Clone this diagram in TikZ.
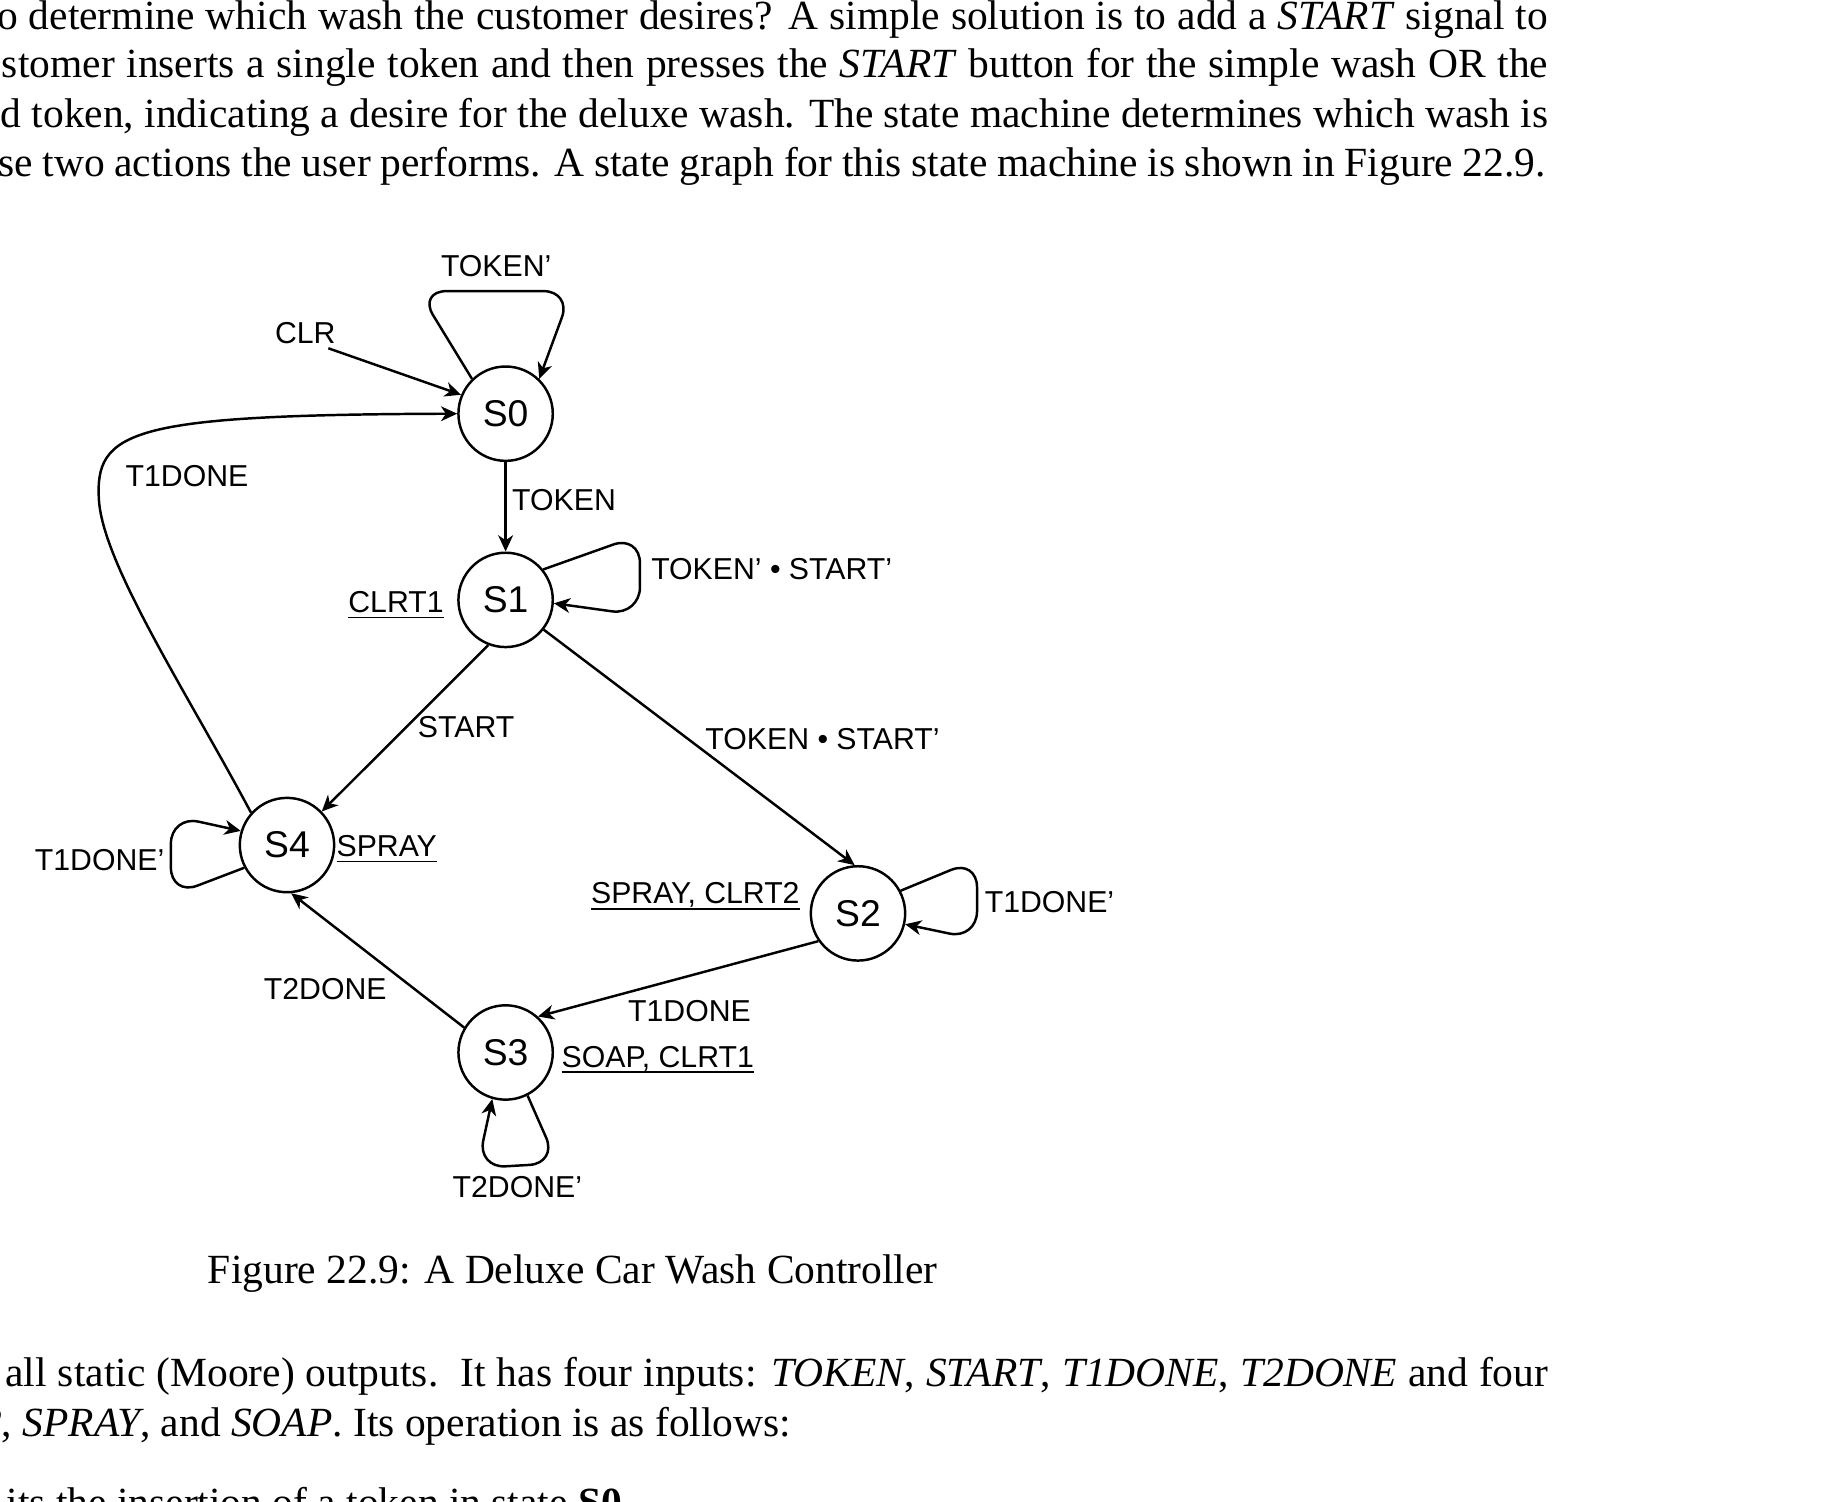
\documentclass[tikz,border=0pt]{standalone}
\usepackage{fontspec}
\setmainfont{Liberation Serif}
\newfontfamily\sansfnt{Liberation Sans}
\usetikzlibrary{arrows.meta}
\newdimen\ux
\ux=0.011786cm
\newcommand\outp[1]{\underline{\raisebox{0pt}[\height][0pt]{#1}}}

\begin{document}
\begin{tikzpicture}[x=0.011786cm,y=-0.011786cm,
		stat/.style={draw,circle,line width=0.7pt,minimum size=0.943cm,inner sep=0pt,font=\sansfnt\fontsize{10.6}{12}\selectfont},
		lbl/.style={inner sep=0pt,font=\sansfnt\fontsize{8.6}{10}\selectfont},
		txt/.style={inner sep=0pt,anchor=base west,font=\fontsize{11.8}{14}\selectfont},
		trans/.style={line width=0.7pt,-{Stealth[length=4.6pt,width=4.2pt,inset=1.4pt]}},
		selfloop/.style={trans,rounded corners=8pt}]
		\useasboundingbox (0,0) rectangle (1568,1274);
		\begin{scope}
			\clip (0,0) rectangle (1568,1274);
			\node[txt] (p1) at (-3,25) {\makebox[1316\ux][s]{o determine which wash the customer desires? A simple solution is to add a \textit{START} signal to}};
			\node[txt] (p2) at (1,66) {\makebox[1312\ux][s]{stomer inserts a single token and then presses the \textit{START} button for the simple wash OR the}};
			\node[txt] (p3) at (0,108) {\makebox[1313\ux][s]{d token, indicating a desire for the deluxe wash. The state machine determines which wash is}};
			\node[txt] (p4) at (-2,150) {\makebox[1313\ux][s]{se two actions the user performs. A state graph for this state machine is shown in Figure 22.9.}};
			\node[txt,anchor=base] (cap) at (486,1089) {Figure 22.9: A Deluxe Car Wash Controller};
			\node[txt] (p5) at (4,1176) {\makebox[1309\ux][s]{all static (Moore) outputs.\ \ It has four inputs: \textit{TOKEN}, \textit{START}, \textit{T1DONE}, \textit{T2DONE} and four}};
			\node[txt,anchor=base east] (p6) at (672,1219) {\textit{2}, \textit{SPRAY}, and \textit{SOAP}. Its operation is as follows:};
			\node[txt] (p7) at (5,1287) {its the insertion of a token in state \textbf{S0}.};
		\end{scope}
		\node[stat] (S0) at (429,351) {S0};
		\node[stat] (S1) at (429,509) {S1};
		\node[stat] (S4) at (243.5,717) {S4};
		\node[stat] (S2) at (728,775) {S2};
		\node[stat] (S3) at (429,893) {S3};
		\coordinate (clr) at (278.6,295.5);
		\draw[trans] (clr) -- (S0.157);
		\draw[trans] (S0.south) -- (S1.north);
		\draw[trans] (S1.249) -- (S4.44);
		\draw[trans] (S1.-38) -- (S2.94);
		\draw[trans] (S2.215) -- (S3.48);
		\draw[trans] (S3.149) -- (S4.-85);
		\draw[trans] (S4.138) .. controls (160,590) and (88,480) .. (84,425) .. controls (80,365) and (110,352) .. (S0.west);
		\draw[selfloop] (S0.134) -- (355,247) -- (485,247) -- (S0.46);
		\draw[selfloop] (S1.39) -- (543,454) -- (543,522) -- (S1.-4);
		\draw[selfloop] (S4.208) -- (145,760) -- (145,692) -- (S4.163);
		\draw[selfloop] (S2.28) -- (829,729) -- (829,797) -- (S2.-13);
		\draw[selfloop] (S3.-63) -- (473,987) -- (405,991) -- (S3.-106);
		\node[lbl] (t00) at (421,226) {TOKEN’};
		\node[lbl] (tclr) at (259,283) {CLR};
		\node[lbl,anchor=west] (t01) at (434,424) {TOKEN};
		\node[lbl,anchor=west] (t11) at (552,483) {TOKEN’ • START’};
		\node[lbl,anchor=east] (o1) at (377,514) {\outp{CLRT1}};
		\node[lbl,anchor=west] (t14) at (354,617) {START};
		\node[lbl,anchor=west] (t12) at (598,627) {TOKEN • START’};
		\node[lbl,anchor=west] (t40) at (106,404) {T1DONE};
		\node[lbl,anchor=east] (t44) at (140,730) {T1DONE’};
		\node[lbl,anchor=west] (o4) at (285,721) {\outp{SPRAY}};
		\node[lbl] (t34) at (276,839) {T2DONE};
		\node[lbl,anchor=east] (o2) at (679,761) {\outp{SPRAY, CLRT2}};
		\node[lbl,anchor=west] (t22) at (835,765) {T1DONE’};
		\node[lbl] (t23) at (585,858) {T1DONE};
		\node[lbl,anchor=west] (o3) at (476,899.5) {\outp{SOAP, CLRT1}};
		\node[lbl] (t33) at (439,1007) {T2DONE’};
\end{tikzpicture}
\end{document}
